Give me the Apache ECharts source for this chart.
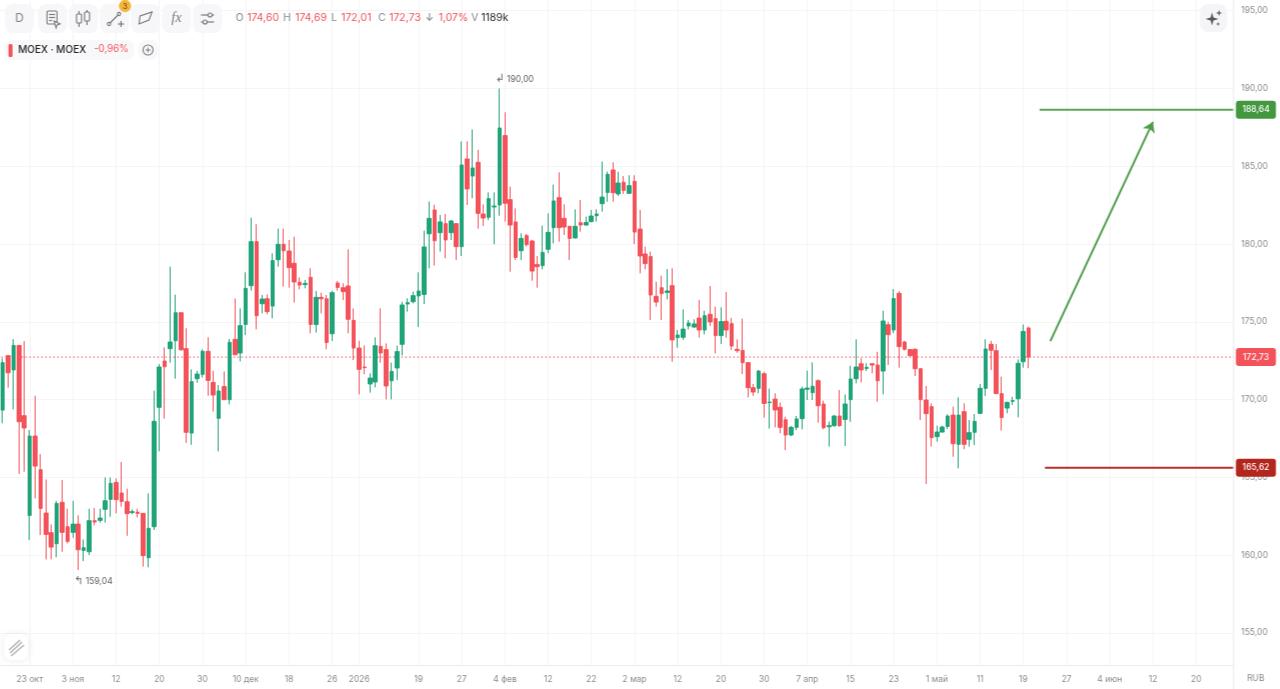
<!DOCTYPE html>
<html><head><meta charset="utf-8">
<style>html,body{margin:0;padding:0;background:#fff;overflow:hidden;width:1280px;height:689px}#c{width:1286px;height:689px;transform:translateX(-5.4px);filter:blur(0.35px)}</style>
<script src="https://cdn.jsdelivr.net/npm/echarts@6/dist/echarts.min.js"></script>
</head><body><div id="c"></div>
<script>
const tickSlots=[6,14,22,30,38,46,54,62,67,78,86,94,102,110,118,126,134,142,150,158,166,174,182,190,198,206,214,222];
const tickLabels=['23 окт','3 ноя','12','20','30','10 дек','18','26','2026','19','27','4 фев','12','22','2 мар','12','20','30','7 апр','15','23','1 май','11','19','27','4 июн','12','20'];
const priceTicks=[155,160,165,170,175,180,185,190,195];
const opens=[166.97,169.32,172.82,171.90,173.48,168.96,162.55,167.65,165.49,162.70,161.44,160.73,163.39,161.82,161.46,161.99,160.30,160.21,162.21,162.23,162.94,163.58,164.67,163.99,163.43,162.74,162.76,162.68,159.83,161.82,169.50,172.48,173.27,173.78,175.58,173.27,167.84,171.34,171.62,173.10,
171.10,168.79,170.83,169.99,173.87,172.99,174.83,177.32,180.15,176.16,176.48,176.01,178.99,179.98,179.55,178.76,177.54,177.39,177.86,174.83,176.57,176.48,174.23,177.49,177.19,177.30,175.09,173.31,172.09,171.00,171.13,173.42,173.21,171.21,172.03,173.55,176.14,176.29,176.66,176.76,
180.66,182.19,180.73,181.31,180.73,181.31,179.83,185.47,184.37,185.25,181.93,181.72,182.38,182.51,186.97,182.85,181.42,179.57,180.54,180.19,178.69,178.61,179.66,181.05,182.98,181.65,181.14,180.39,181.37,181.22,181.44,181.82,182.59,183.32,184.76,183.22,183.97,183.26,184.03,180.96,179.36,
179.19,176.64,177.19,176.89,177.32,173.98,174.00,174.73,174.66,175.24,174.47,175.48,175.20,174.11,175.03,174.88,173.23,173.16,172.37,170.76,170.72,171.66,169.80,170.03,169.50,168.70,167.72,168.21,168.77,170.66,170.44,171.21,169.71,168.25,
168.32,168.94,168.72,169.99,171.34,172.30,172.00,172.30,172.22,171.83,174.81,174.47,176.83,173.70,173.21,173.23,171.98,169.97,169.54,167.61,167.91,168.27,169.00,167.12,169.22,167.44,167.89,169.11,170.72,173.55,173.14,170.38,169.45,169.89,170.05,172.43,174.60];
const closes=[167.93,172.37,171.72,173.48,168.57,168.17,167.65,165.72,163.00,161.33,160.51,163.32,161.46,160.88,161.99,160.34,160.47,162.21,162.12,162.38,163.49,164.61,163.56,163.45,162.66,162.79,162.68,159.96,161.72,168.60,172.09,172.11,173.70,175.58,173.20,167.89,171.15,171.64,173.10,171.23,
170.29,170.55,169.99,173.68,172.88,174.75,177.15,180.15,175.39,176.46,175.65,178.93,179.98,179.57,178.48,177.56,177.36,177.47,174.83,176.57,176.48,173.66,176.87,177.21,176.94,175.16,173.31,171.94,172.05,171.38,173.46,172.99,170.87,171.81,173.08,176.08,176.23,176.68,176.98,179.81,
181.65,180.21,181.42,180.26,181.48,179.83,185.08,183.54,184.89,181.97,181.67,182.92,182.44,187.46,182.62,181.22,179.14,180.36,179.96,178.26,178.54,179.46,180.75,182.77,181.05,181.09,180.36,181.14,181.22,181.39,181.80,181.93,183.02,184.48,183.30,183.92,183.45,183.75,180.77,179.23,178.74,
176.72,176.27,176.81,176.98,173.83,174.15,174.53,174.92,174.86,174.47,175.39,174.99,174.11,175.01,174.47,173.44,173.14,172.37,170.76,170.48,171.83,169.75,169.84,169.33,168.21,167.72,168.21,168.75,170.68,170.74,170.85,169.60,168.19,168.32,
168.94,168.32,169.71,171.32,172.09,171.90,172.07,172.22,171.21,175.05,174.17,176.49,173.40,173.23,172.82,171.98,169.99,169.09,167.55,167.91,168.23,168.94,167.16,169.00,167.12,167.87,168.60,170.72,173.25,173.17,170.38,168.84,169.82,169.93,172.33,174.38,172.73];
const lows=[166.90,168.47,170.76,169.37,165.21,165.36,160.96,163.64,161.28,159.72,159.72,159.85,160.21,160.75,161.11,159.04,159.61,160.00,161.91,162.08,162.08,162.46,162.68,163.11,161.24,162.62,162.42,159.25,159.21,161.61,166.67,168.77,172.37,171.34,173.14,167.22,167.09,171.08,171.42,170.24,
169.22,166.67,169.97,169.69,172.86,172.45,174.15,177.00,174.51,175.54,175.48,175.22,178.54,177.26,177.19,176.23,177.09,177.15,174.26,174.30,175.54,173.23,173.76,177.00,176.40,174.26,172.54,170.33,171.62,170.44,170.78,172.37,170.01,170.01,171.25,172.84,175.65,176.18,174.66,176.14,
178.44,178.61,179.51,179.08,180.26,178.97,179.23,182.51,182.94,180.99,181.16,181.54,179.98,181.82,181.44,178.22,178.97,178.97,179.83,177.64,177.19,178.37,179.40,180.04,180.15,180.58,178.97,180.36,180.79,181.18,181.39,181.44,182.08,182.72,182.72,183.09,183.22,183.22,180.00,178.11,178.37,
175.11,175.97,175.11,176.44,172.43,173.33,173.83,174.51,174.62,173.98,174.19,174.73,172.97,173.57,173.98,173.18,173.01,171.64,170.14,170.23,170.40,168.83,168.13,168.21,167.83,166.75,167.65,168.04,168.08,169.97,169.97,168.51,168.08,166.97,
168.25,168.25,167.01,168.57,171.04,171.10,171.83,171.68,169.86,170.33,172.22,174.26,172.05,173.14,172.76,171.51,168.68,164.57,166.97,167.29,167.87,168.10,166.32,165.57,166.80,166.97,167.07,169.07,170.23,171.90,170.36,168.00,169.11,169.65,168.85,172.05,172.01];
const highs=[168.00,172.64,172.85,173.89,173.50,173.76,168.04,170.24,166.49,164.86,161.97,163.49,164.82,162.98,163.49,162.55,161.00,162.98,163.02,162.98,164.99,164.99,164.93,165.98,164.27,162.94,162.98,162.70,163.96,170.57,172.28,173.35,178.54,176.74,175.60,174.58,171.94,171.85,173.23,174.00,
171.85,170.93,171.81,173.89,176.49,175.86,178.18,181.69,181.27,176.72,176.76,179.40,180.99,180.99,180.26,180.47,177.86,177.69,178.44,176.98,176.87,176.72,177.00,177.62,177.47,179.66,175.86,173.78,173.48,171.68,174.00,175.86,173.61,172.37,173.46,176.29,176.51,176.94,178.18,180.86,
182.74,182.53,181.87,181.93,181.54,181.33,186.60,186.60,187.37,186.05,182.55,183.32,183.32,190.00,188.47,183.69,182.29,180.69,180.64,180.26,179.23,181.18,181.97,183.82,184.61,182.55,181.16,182.23,182.83,181.76,182.19,182.23,185.30,184.65,185.25,184.65,184.37,184.42,184.42,182.19,179.83,
179.51,177.58,177.96,178.39,178.44,174.47,175.80,175.11,175.16,176.40,175.71,177.30,175.97,175.93,176.91,175.26,173.87,175.20,172.39,171.00,171.90,171.79,170.70,170.40,169.80,168.90,168.30,168.94,170.83,171.86,172.39,171.30,169.93,168.58,
169.00,170.61,170.33,172.17,173.87,172.65,172.33,172.33,173.07,175.71,175.00,177.10,176.97,173.78,173.23,173.29,172.00,170.87,169.75,168.32,168.32,169.05,169.54,170.14,169.75,168.68,169.07,171.00,173.87,173.78,173.57,171.47,169.86,170.18,172.58,174.83,174.69];
const lastPrice=172.73, targetPrice=188.64, stopPrice=165.62, peak=190.00, trough=159.04;
const targetFrom=193, stopFrom=194, levelTo=229, arrowFrom=[195,173.76], arrowTo=[214,187.85], peakSlot=93, troughSlot=15;
const ohlcLine=[['O','174,60'],['H','174,69'],['L','172,01'],['C','172,73']];

const SLOTS=230, BW=5.4, SHIFT=5.4;
const categories=new Array(SLOTS).fill('');
tickSlots.forEach((s,i)=>{categories[s]=tickLabels[i]});
const candles=opens.map((o,i)=>[o,closes[i],lows[i],highs[i]]);
const fmt=v=>v.toFixed(2).replace('.',',');
const UP='#1fa378',DOWN='#f4525a',GRID='#f5f5f6',TXT='#8b8b8f',ICON='#77797f',FONT='Inter,"Noto Sans",sans-serif';
const BADGE='path://M3 0H37Q40 0 40 3V15Q40 18 37 18H3Q0 18 0 15V3Q0 0 3 0Z';

const el=[];
const btn=(x,y,w,h,fill)=>el.push({type:'rect',shape:{x,y,width:w,height:h,r:8},style:{fill:fill||'#f7f7f9'},silent:true,z:5});
const txt=(x,y,t,fill,size,extra)=>el.push({type:'text',x,y,style:Object.assign({text:t,fill,font:(size||10.5)+'px '+FONT,textVerticalAlign:'middle',textAlign:'left'},extra||{}),silent:true,z:6});
const ln=(x1,y1,x2,y2,c,w)=>el.push({type:'line',shape:{x1,y1,x2,y2},style:{stroke:c||ICON,lineWidth:w||1.2},silent:true,z:6});
const box=(x,y,w,h,c,fill)=>el.push({type:'rect',shape:{x,y,width:w,height:h,r:1},style:{stroke:c||ICON,fill:fill||'none',lineWidth:1.1},silent:true,z:6});
const dot=(x,y,r,c,fill)=>el.push({type:'circle',shape:{cx:x,cy:y,r},style:{stroke:c||ICON,fill:fill||'none',lineWidth:1.1},silent:true,z:6});
const poly=(pts,fill,stroke)=>el.push({type:'polygon',shape:{points:pts},style:{fill:fill||'none',stroke:stroke||'none',lineWidth:1.1},silent:true,z:6});
const star=(cx,cy,r)=>{const q=r*0.22;poly([[cx,cy-r],[cx+q,cy-q],[cx+r,cy],[cx+q,cy+q],[cx,cy+r],[cx-q,cy+q],[cx-r,cy],[cx-q,cy-q]],'#55585f')};

// axis frame
el.push({type:'rect',shape:{x:1234.5,y:0,width:2.6,height:689},style:{fill:'#fff'},silent:true,z:1});
ln(1233.5,0,1233.5,689,'#ececee',1);

// toolbar
[5,38,69,100,131,162,193].forEach(x=>btn(x,4,29,29));
txt(19.5,18.5,'D','#85858a',12,{textAlign:'center'});
box(47,11,10,13,ICON);ln(49,14.5,55,14.5);ln(49,17.5,55,17.5);ln(49,20.5,52,20.5);poly([[54,21],[60,24],[57,25],[56,28]],'#f7f7f9',ICON);
ln(79,11,79,27);box(76.5,14,5,9,ICON,'#f7f7f9');ln(87,10,87,25);box(84.5,12,5,9,ICON,'#f7f7f9');
ln(110,23,118,15);dot(109,24,1.6);dot(119,14,1.6);ln(118,24,124,24);ln(121,21,121,27);
dot(125,6,5.6,'#f5b73b','#f5b73b');txt(125,6.3,'3','#6b4d05',8,{textAlign:'center'});
poly([[139,24],[140,16],[152,12],[149,20]],'none',ICON);
el.push({type:'text',x:176.5,y:18.5,style:{text:'fx',fill:ICON,font:'italic 14px "Liberation Serif",serif',textAlign:'center',textVerticalAlign:'middle'},silent:true,z:6});
ln(201,15,214,15);ln(201,22,214,22);dot(210,15,2,ICON,'#f7f7f9');dot(205,22,2,ICON,'#f7f7f9');

// OHLC read-out
[[235.5,247],[283,295],[331,341],[378,389]].forEach((p,i)=>{txt(p[0],18,ohlcLine[i][0],'#8b8b8f');txt(p[1],18,ohlcLine[i][1],DOWN)});
txt(425,17.5,'↓','#7a7a80',10.5);txt(438.5,18,'1,07%',DOWN);txt(471,18,'V','#8b8b8f');txt(481,18,'1189k','#2b2b2f');

// legend
btn(5,40,129,20,'#f8f8fa');
el.push({type:'rect',shape:{x:8.5,y:44,width:4,height:13,r:1.5},style:{fill:DOWN},silent:true,z:6});
txt(18,49.5,'MOEX · MOEX','#25252a',10,{font:'500 10px '+FONT});txt(94,49.5,'-0,96%',DOWN,9.7);
btn(138,40,20,20,'#f8f8fa');dot(148,50,5,'#7c7c82');ln(145.5,50,150.5,50,'#7c7c82',1);ln(148,47.5,148,52.5,'#7c7c82',1);

// assistant button
btn(1200,4,27,28,'#f5f5f8');star(1212,19,6.5);star(1219,13,3.2);star(1218,24,2.2);

// bottom-left button
el.push({type:'rect',shape:{x:4,y:634,width:24,height:26,r:8},style:{fill:'#fff',shadowBlur:8,shadowColor:'rgba(0,0,0,0.08)'},silent:true,z:5});
[[9,650,20,640],[10,653,22,642],[11,656,24,645]].forEach(a=>ln(a[0],a[1],a[2],a[3],'#b0b0b5',1.4));

// currency
txt(1247,678.5,'RUB',TXT,8.5);

const badge=(slot,price,color)=>({coord:[slot,price],symbol:BADGE,symbolSize:[40,18],symbolOffset:[22,0],itemStyle:{color},
  label:{show:true,position:'inside',formatter:fmt(price),color:'#fff',fontSize:8.5,fontWeight:500}});
const note=(slot,price,glyph,pos,dist,dx)=>({coord:[slot,price],symbol:'circle',symbolSize:1,itemStyle:{color:'rgba(0,0,0,0)'},
  label:{show:true,position:pos,distance:dist,offset:[dx,0],formatter:'{a|'+glyph+'} '+fmt(price),color:'#5f5f64',fontSize:8.5,rich:{a:{fontSize:11,color:'#6a6a70',fontFamily:'"DejaVu Sans"'}}}});

const option={
 animation:false,backgroundColor:'#fff',
 textStyle:{fontFamily:FONT},
 grid:{left:0,top:0,width:SLOTS*BW,height:665},
 xAxis:{type:'category',data:categories,boundaryGap:true,
  axisLine:{show:true,lineStyle:{color:'#ececee',width:1}},
  axisTick:{show:false,alignWithLabel:true},
  axisLabel:{interval:(i,v)=>v!=='',color:TXT,fontSize:8.5,margin:9.5,hideOverlap:false},
  splitLine:{show:true,alignWithLabel:true,interval:(i,v)=>v!=='',lineStyle:{color:GRID,width:1}}},
 yAxis:{type:'value',position:'right',min:152.93,max:195.69,scale:true,
  axisLine:{show:false},
  axisTick:{show:false,customValues:priceTicks},
  axisLabel:{color:TXT,fontSize:8.5,margin:4.5,customValues:priceTicks,formatter:v=>fmt(v)},
  splitLine:{show:true,customValues:priceTicks,lineStyle:{color:GRID,width:1}}},
 series:[
  {type:'candlestick',data:candles,barWidth:4,clip:true,
   itemStyle:{color:UP,color0:DOWN,borderColor:UP,borderColor0:DOWN,borderWidth:1},
   markPoint:{silent:true,animation:false,data:[
     badge(levelTo,lastPrice,'#f4525a'),
     note(peakSlot,peak,'↲','top',3,15),
     note(troughSlot,trough,'↰','bottom',5,15)
   ]}},
  {type:'line',data:[[0,lastPrice],[levelTo,lastPrice]],symbol:'none',silent:true,z:1,
   lineStyle:{color:'#f4525a',width:1.2,type:[1.5,2.5],opacity:0.85}},
  {type:'line',data:[[targetFrom,targetPrice],[levelTo,targetPrice]],symbol:'none',clip:false,silent:true,
   lineStyle:{color:'#5aa757',width:2},
   markPoint:{silent:true,animation:false,data:[badge(levelTo,targetPrice,'#43983f')]}},
  {type:'line',data:[[stopFrom,stopPrice],[levelTo,stopPrice]],symbol:'none',clip:false,silent:true,
   lineStyle:{color:'#b92f25',width:2},
   markPoint:{silent:true,animation:false,data:[badge(levelTo,stopPrice,'#b3261e')]}},
  {type:'line',data:[],silent:true,
   markLine:{silent:true,animation:false,symbol:['none','arrow'],symbolSize:10,label:{show:false},
    lineStyle:{color:'#4f9f4b',width:2,type:'solid'},
    data:[[{coord:arrowFrom},{coord:arrowTo}]]}}
 ],
 graphic:{elements:[{type:'group',x:SHIFT,y:0,children:el}]}
};
const chart=echarts.init(document.getElementById('c'),null,{renderer:'canvas'});
chart.setOption(option);
</script></body></html>
